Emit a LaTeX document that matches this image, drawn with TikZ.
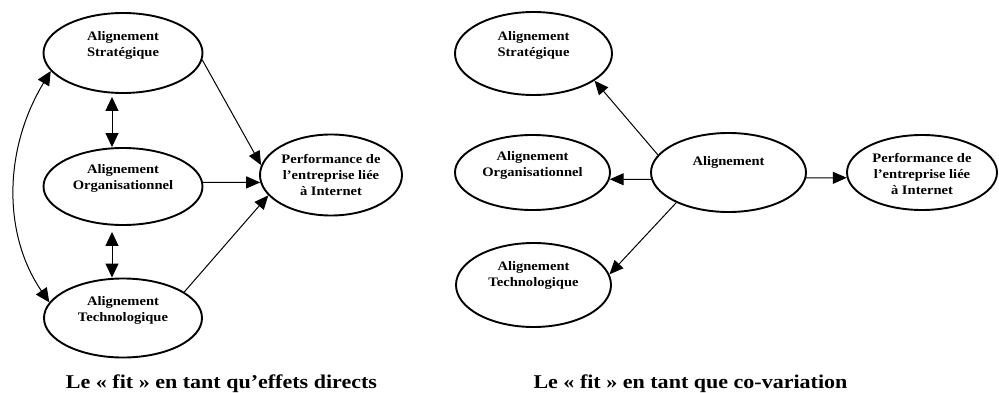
\documentclass[tikz,border=0pt]{standalone}
\usepackage{fontspec}
\setmainfont{Liberation Serif}
\newfontfamily\nodefont{Liberation Serif}[FakeStretch=1.12]
\newfontfamily\capfont{Liberation Serif}[FakeStretch=1.13]
\usetikzlibrary{arrows.meta,shapes.geometric}

\begin{document}
\begin{tikzpicture}[x=1pt,y=-1pt,
  ell/.style={draw, ellipse, line width=1.9pt, inner sep=0pt},
  lbl/.style={font=\nodefont\bfseries\fontsize{13}{16}\selectfont, align=center, inner sep=0pt},
  captxt/.style={font=\capfont\bfseries\fontsize{19.5}{22}\selectfont, anchor=base, inner sep=0pt},
  arr/.style={line width=1pt, -{Triangle[length=14pt,width=12pt]}},
  dbl/.style={line width=1pt, {Triangle[length=14pt,width=13pt]}-{Triangle[length=14pt,width=13pt]}},
]
\useasboundingbox (0,0) rectangle (999,393);

% left diagram
\node[ell, minimum width=159pt, minimum height=80pt] (S1) at (123,53) {};
\node[lbl] (S1t) at (123,45) {Alignement\\Stratégique};
\node[ell, minimum width=159pt, minimum height=77pt] (O1) at (123,186.5) {};
\node[lbl] (O1t) at (123,178) {Alignement\\Organisationnel};
\node[ell, minimum width=158pt, minimum height=79pt] (T1) at (123,318) {};
\node[lbl] (T1t) at (123,310) {Alignement\\Technologique};
\node[ell, minimum width=142pt, minimum height=81pt] (P1) at (331,175) {};
\node[lbl] (P1t) at (331,175) {Performance de\\l’entreprise liée\\à Internet};

\draw[arr] (S1.-5) -- (P1.172);
\draw[arr] (O1.3) -- (P1.186);
\draw[arr] (T1.23) -- (P1.198);
\draw[dbl, shorten <=3pt] ([xshift=-11pt]S1.south) -- ([xshift=-11pt]O1.north);
\draw[dbl, shorten <=6pt] ([xshift=-11pt]O1.south) -- ([xshift=-11pt]T1.north);
\draw[dbl] (T1.168) .. controls (3,235) and (3,150) .. (S1.194);

% right diagram
\node[ell, minimum width=157pt, minimum height=83pt] (S2) at (533.5,53.5) {};
\node[lbl] (S2t) at (533.5,45) {Alignement\\Stratégique};
\node[ell, minimum width=155pt, minimum height=75pt] (O2) at (532.5,172.5) {};
\node[lbl] (O2t) at (532.5,165) {Alignement\\Organisationnel};
\node[ell, minimum width=155pt, minimum height=84pt] (T2) at (533.5,285) {};
\node[lbl] (T2t) at (533.5,275) {Alignement\\Technologique};
\node[ell, minimum width=155pt, minimum height=79pt] (A2) at (728.5,172.5) {};
\node[lbl] (A2t) at (728.5,162) {Alignement};
\node[ell, minimum width=150pt, minimum height=75pt] (P2) at (922,172.5) {};
\node[lbl] (P2t) at (922,174) {Performance de\\l’entreprise liée\\à Internet};

\draw[arr] (A2.166) -- (S2.-24);
\draw[arr] (A2.185) -- (O2.-5);
\draw[arr] (A2.210) -- (T2.8);
\draw[arr] (A2.-4) -- (P2.184);

% captions
\node[captxt] (c1) at (221.5,388) {Le « fit » en tant qu’effets directs};
\node[captxt] (c2) at (690.5,388) {Le « fit » en tant que co-variation};
\end{tikzpicture}
\end{document}
